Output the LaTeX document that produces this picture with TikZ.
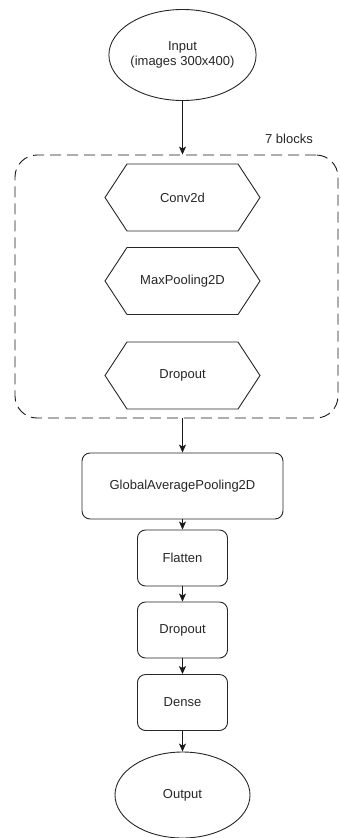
\documentclass[tikz,border=0pt]{standalone}
\usepackage{fontspec}
\setmainfont{Liberation Sans}
\usetikzlibrary{arrows.meta, positioning, shapes.geometric}

% hexagon layer inside the repeated block
\newcommand{\hexlayer}[4]{
	\draw[shape line] (#2-77.5,#3) -- (#2-55.5,#3-33.5) -- (#2+55.5,#3-33.5)
		-- (#2+77.5,#3) -- (#2+55.5,#3+33.5) -- (#2-55.5,#3+33.5) -- cycle;
	\node[lbl] (#1) at (#2,#3) {#4};
}

\begin{document}
\begin{tikzpicture}[x=1pt, y=-1pt,
		shape line/.style={draw=black!85, line width=0.9pt},
		lbl/.style={font=\fontsize{13}{14.5}\selectfont, text=black!85, inner sep=0pt, align=center},
		layerbox/.style={shape line, lbl, rectangle, rounded corners=8pt},
		oval/.style={shape line, lbl, ellipse, minimum width=135pt},
		arr/.style={draw=black!90, line width=0.9pt, -{Stealth[length=8pt, width=7pt, inset=2pt]}}]
	\useasboundingbox (0,0) rectangle (340,838);

	% input
	\node[oval, minimum height=91pt] (input) at (182.5,55) {Input\\(images 300x400)};

	% repeated block
	\node[draw=black!90, line width=0.9pt, dash pattern=on 11pt off 6pt, rounded corners=22pt,
		minimum width=323pt, minimum height=263pt, inner sep=0pt] (blocks) at (176.5,286.5) {};
	\node[lbl, anchor=south] (nblocks) at (289,144) {7 blocks};
	\hexlayer{conv}{182.5}{197.5}{Conv2d}
	\hexlayer{maxpool}{182.5}{281}{MaxPooling2D}
	\hexlayer{drop1}{182.5}{375.5}{Dropout}

	% head of the network
	\node[layerbox, minimum width=201pt, minimum height=66pt] (gap) at (182.5,486) {GlobalAveragePooling2D};
	\node[layerbox, minimum width=90pt, minimum height=56pt] (flatten) at (182.5,558) {Flatten};
	\node[layerbox, minimum width=90pt, minimum height=56pt] (drop2) at (182.5,630) {Dropout};
	\node[layerbox, minimum width=90pt, minimum height=56pt] (dense) at (182.5,702.5) {Dense};
	\node[oval, minimum height=86pt] (output) at (182.5,795) {Output};

	\draw[arr] (input) -- (input |- blocks.north);
	\draw[arr] (gap |- blocks.south) -- (gap);
	\draw[arr] (gap) -- (flatten);
	\draw[arr] (flatten) -- (drop2);
	\draw[arr] (drop2) -- (dense);
	\draw[arr] (dense) -- (output);
\end{tikzpicture}
\end{document}
